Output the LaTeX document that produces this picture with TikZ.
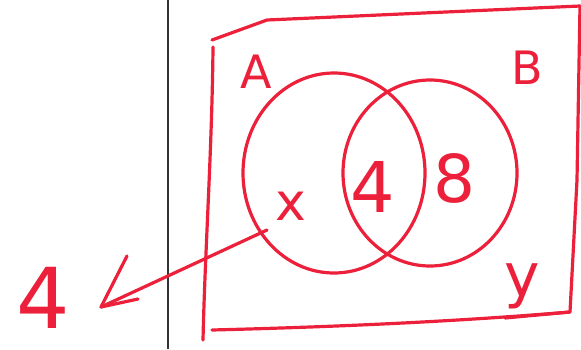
\documentclass[tikz,border=0pt]{standalone}
\usepackage{fontspec}
\setmainfont{DejaVu Sans}
\definecolor{pen}{RGB}{236,32,58}
\begin{document}
\begin{tikzpicture}[x=1pt,y=-1pt,
  ink/.style={draw=pen,line width=3.2pt,line cap=round,line join=round},
  lbl/.style={text=pen,inner sep=0pt,font=\fontsize{#1}{#1}\selectfont},
  lbl/.default=40]
\useasboundingbox (0,0) rectangle (581,349);
\fill[white] (0,0) rectangle (581,349);
% black divider
\draw[line width=1.8pt,black!80] (168,0) -- (168,349);
% universal set (hand drawn rectangle)
\draw[ink] (213,47) .. controls (212,150) and (205,250) .. (203,340);
\draw[ink] (212,40) -- (267,20) -- (580,6);
\draw[ink] (580,6) -- (577,180) -- (570,312) -- (505,318);
\draw[ink] (212,330) .. controls (330,327) and (450,322) .. (570,312);
% circles
\draw[ink] (334,173) ellipse [x radius=91, y radius=100];
\draw[ink] (430,173) ellipse [x radius=87, y radius=93];
% labels
\node[lbl=46] (A) at (256,72) {A};
\node[lbl=46] (B) at (527,68) {B};
\node[lbl=52] (x) at (291,206) {x};
\node[lbl=70] (four) at (373,187) {4};
\node[lbl=66] (eight) at (454,178) {8};
\node[lbl=60] (y) at (522,286) {y};
\node[lbl=84] (out) at (43,298) {4};
% arrow from region x to outside label
\coordinate (start) at (267,230);
\coordinate (tip) at (101,307);
\draw[ink] (start) -- (tip);
\draw[ink] (127,256) -- (tip) -- (138,299);
\end{tikzpicture}
\end{document}
